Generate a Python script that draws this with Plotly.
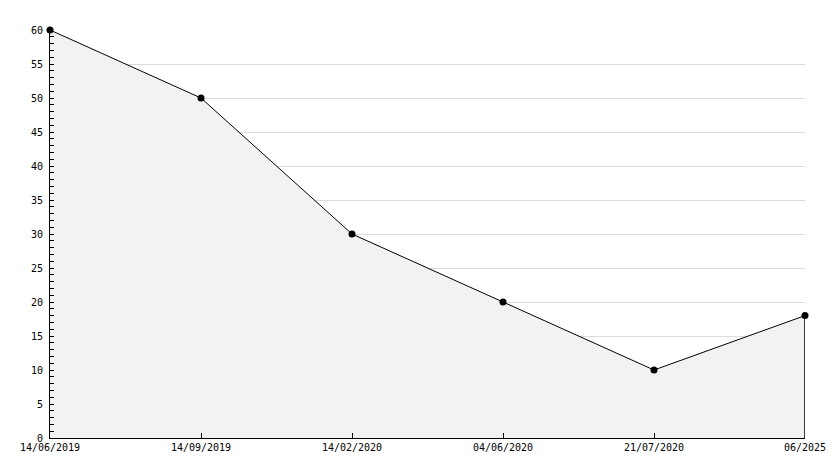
import plotly.graph_objects as go

categories = ["14/06/2019", "14/09/2019", "14/02/2020", "04/06/2020", "21/07/2020", "06/2025"]
values = [60, 50, 30, 20, 10, 18]
y_ticks = list(range(0, 61, 5))

FONT = "DejaVu Sans Mono"

fig = go.Figure()
fig.add_trace(go.Scatter(
    x=categories, y=values, mode="lines",
    fill="tozeroy", fillcolor="#f2f2f2",
    line=dict(color="black", width=1),
    showlegend=False, hoverinfo="skip",
))
# closing vertical edge at the last point
fig.add_trace(go.Scatter(
    x=[categories[-1], categories[-1]], y=[0, values[-1]], mode="lines",
    cliponaxis=False,
    line=dict(color="black", width=1.5), showlegend=False, hoverinfo="skip",
))
fig.add_trace(go.Scatter(
    x=categories, y=values, mode="markers", cliponaxis=False,
    marker=dict(color="black", size=7, symbol="circle"),
    showlegend=False, hoverinfo="x+y",
))

fig.update_layout(
    width=834, height=468,
    margin=dict(l=50, r=29, t=30, b=30),
    paper_bgcolor="white", plot_bgcolor="white",
    font=dict(family=FONT, size=10, color="black"),
    xaxis=dict(
        type="category", range=[0, len(categories) - 1], automargin=False,
        showgrid=False, zeroline=False,
        showline=True, linecolor="black", linewidth=1,
        ticks="inside", ticklen=5, tickcolor="black",
        tickfont=dict(family=FONT, size=10, color="black"),
    ),
    yaxis=dict(
        range=[0, 60.001], tickvals=y_ticks, automargin=False,
        showgrid=True, gridcolor="#dcdcdc", gridwidth=1,
        zeroline=False,
        showline=True, linecolor="black", linewidth=1,
        ticks="inside", ticklen=4, tickcolor="black",
        minor=dict(dtick=1, ticks="inside", ticklen=4, tickcolor="black", showgrid=False),
        tickfont=dict(family=FONT, size=10, color="black"),
        ticklabelstandoff=4,
    ),
)

fig.write_html("out.html", config={"displayModeBar": False},
               post_script="document.body.style.margin='0';")
